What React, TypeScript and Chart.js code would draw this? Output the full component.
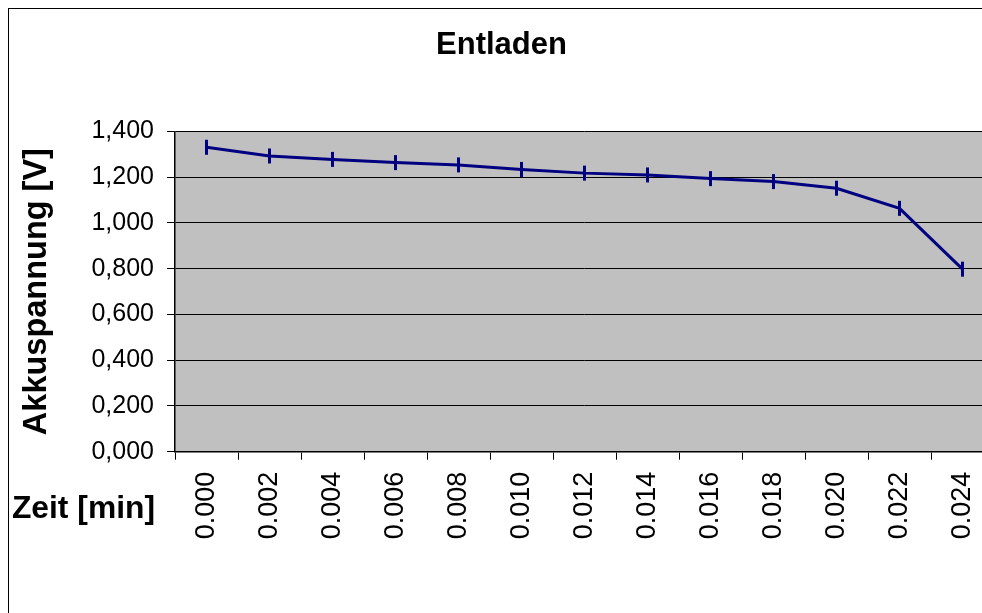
import React, { useEffect, useRef } from "react";
import { Chart, registerables } from "chart.js";

Chart.register(...registerables);

const categories = ["0.000", "0.002", "0.004", "0.006", "0.008", "0.010", "0.012", "0.014", "0.016", "0.018", "0.020", "0.022", "0.024"];
const voltages = [1.331, 1.293, 1.278, 1.264, 1.254, 1.234, 1.218, 1.210, 1.194, 1.181, 1.152, 1.064, 0.798];
const chartTitle = "Entladen";
const yTitle = "Akkuspannung [V]";
const xTitle = "Zeit [min]";
const yMin = 0;
const yMax = 1.4;
const yStep = 0.2;

const FONT = "'Liberation Sans', Arial, sans-serif";

const plotBg = {
  id: "plotBg",
  beforeDraw(chart: any) {
    const { ctx, chartArea } = chart;
    ctx.save();
    ctx.fillStyle = "#C0C0C0";
    ctx.fillRect(chartArea.left, chartArea.top, chartArea.right - chartArea.left, chartArea.bottom - chartArea.top);
    ctx.restore();
  },
};

const xTitlePlugin = {
  id: "xTitlePlugin",
  afterDraw(chart: any) {
    const { ctx, chartArea } = chart;
    ctx.save();
    ctx.font = `bold 31.8px ${FONT}`;
    ctx.fillStyle = "#000";
    ctx.textAlign = "right";
    ctx.textBaseline = "alphabetic";
    ctx.fillText(xTitle, chartArea.left - 20, chartArea.bottom + 66.6);
    ctx.restore();
  },
};

export default function App() {
  const ref = useRef<HTMLCanvasElement | null>(null);
  useEffect(() => {
    if (!ref.current) return;
    const chart = new Chart(ref.current, {
      type: "line",
      data: {
        labels: categories,
        datasets: [
          {
            data: voltages,
            borderColor: "#000080",
            borderWidth: 3,
            pointStyle: "line",
            pointRotation: 90,
            pointRadius: 7.5,
            pointBorderWidth: 3,
            pointBorderColor: "#000080",
            pointBackgroundColor: "#000080",
            tension: 0,
            fill: false,
            clip: false,
          },
        ],
      },
      plugins: [plotBg, xTitlePlugin],
      options: {
        responsive: false,
        animation: false,
        devicePixelRatio: 1,
        layout: { autoPadding: false, padding: { left: 0, right: 1, top: 0, bottom: 0 } },
        plugins: {
          legend: { display: false },
          tooltip: { enabled: false },
          title: {
            display: true,
            text: chartTitle,
            color: "#000",
            font: { family: FONT, size: 31, weight: "bold", lineHeight: 1.2 },
            padding: { top: 18, bottom: 67.3 },
          },
        },
        scales: {
          x: {
            type: "category",
            offset: true,
            grid: {
              offset: true,
              display: true,
              drawOnChartArea: false,
              drawTicks: true,
              tickLength: 8,
              color: "#000",
              lineWidth: 1,
            },
            border: { display: true, color: "#000", width: 1.5 },
            ticks: {
              autoSkip: false,
              minRotation: 90,
              maxRotation: 90,
              padding: 12,
              color: "#000",
              font: { family: FONT, size: 27 },
            },
            afterFit(scale: any) {
              scale.height = 197.3;
              scale.paddingLeft = 0;
              scale.paddingRight = 0;
            },
          },
          y: {
            min: yMin,
            max: yMax,
            grid: {
              color: "#000",
              lineWidth: 1,
              drawTicks: true,
              tickLength: 8,
            },
            border: { display: true, color: "#000", width: 1.5 },
            ticks: {
              stepSize: yStep,
              padding: 13,
              color: "#000",
              font: { family: FONT, size: 25 },
              callback: (v: any) => Number(v).toFixed(3).replace(".", ","),
            },
            title: {
              display: true,
              text: yTitle,
              color: "#000",
              font: { family: FONT, size: 32.5, weight: "bold", lineHeight: 1.2 },
              padding: { top: 8.5, bottom: 0 },
            },
            afterFit(scale: any) {
              scale.width = 166;
            },
          },
        },
      },
    });
    return () => chart.destroy();
  }, []);

  return (
    <div style={{ position: "fixed", left: 0, top: 0, width: 982, height: 613, overflow: "hidden", background: "#fff" }}>
      <div
        style={{
          position: "absolute",
          left: 8,
          top: 8,
          width: 986,
          height: 640,
          border: "1px solid #000",
          background: "#fff",
        }}
      >
        <canvas ref={ref} width={986} height={640} style={{ display: "block", width: 986, height: 640 }} />
      </div>
    </div>
  );
}
